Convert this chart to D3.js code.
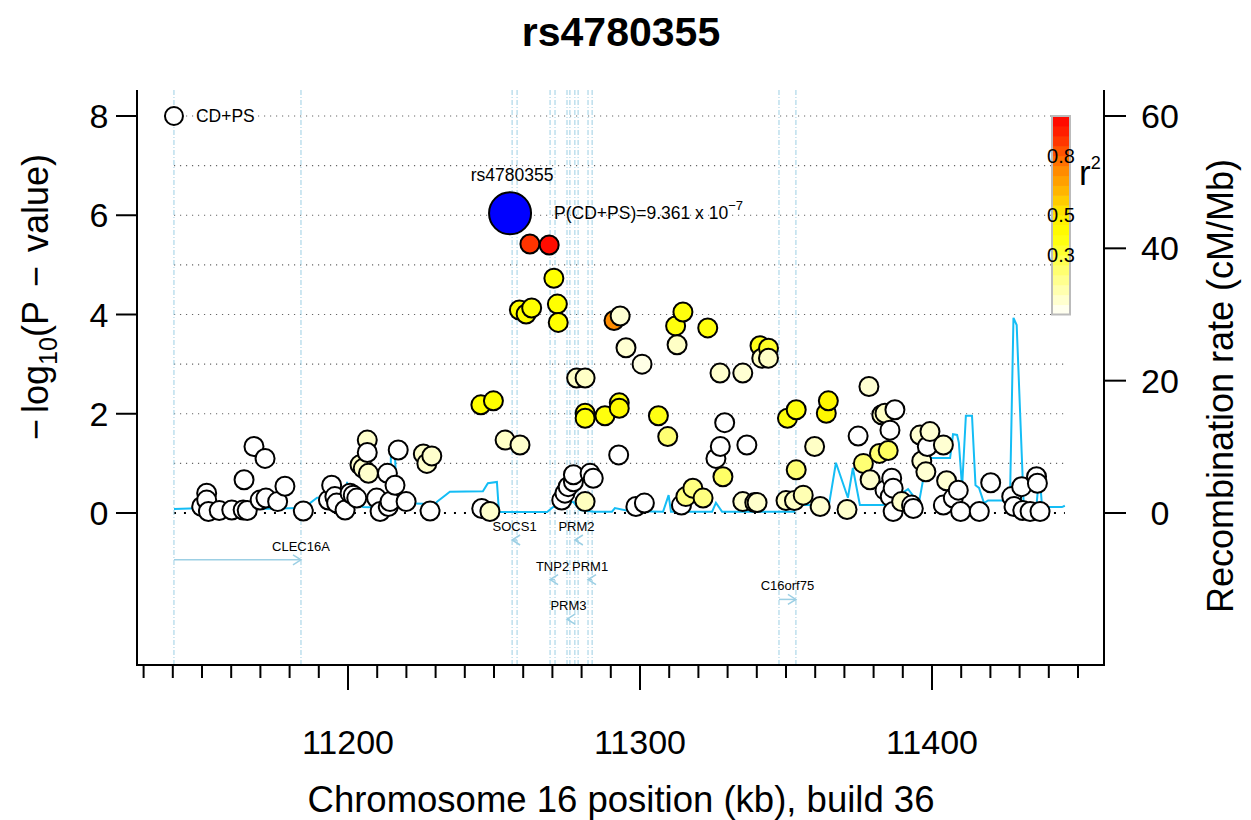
<!DOCTYPE html>
<html>
<head>
<meta charset="utf-8">
<script src="https://cdn.jsdelivr.net/npm/d3@7"></script>
<style>
  body { margin: 0; background: #fff; }
  text { font-family: "Liberation Sans", Arial, sans-serif; fill: #000; }
</style>
</head>
<body>
<div class="chart"></div>
<script>
// ---- data ----

// [position (kb), -log10 p, r2 with the index SNP]
var snps = [
    [11149.9, 0.13, 0], [11151.6, 0.40, 0], [11151.6, 0.26, 0], [11152.2, 0.03, 0],
    [11155.9, 0.05, 0], [11160.2, 0.06, 0], [11164.1, 0.06, 0], [11164.4, 0.67, 0],
    [11165.5, 0.05, 0], [11167.8, 1.34, 0], [11169.9, 0.26, 0], [11171.6, 1.10, 0],
    [11171.9, 0.30, 0], [11175.9, 0.23, 0], [11178.4, 0.54, 0], [11184.7, 0.04, 0],
    [11193.3, 0.26, 0], [11194.4, 0.56, 0], [11195.5, 0.33, 0], [11196.1, 0.20, 0],
    [11199.0, 0.06, 0], [11200.7, 0.40, 0], [11201.8, 0.36, 0], [11203.0, 0.30, 0],
    [11204.1, 0.97, 0.08], [11205.2, 0.90, 0.08], [11206.6, 1.47, 0.08], [11206.6, 1.22, 0],
    [11207.0, 0.80, 0.08], [11209.8, 0.30, 0], [11211.0, 0.03, 0], [11213.5, 0.80, 0],
    [11213.8, 0.13, 0], [11214.4, 0.23, 0], [11216.1, 0.56, 0], [11217.2, 1.27, 0],
    [11219.9, 0.23, 0], [11225.8, 1.19, 0.08], [11227.0, 1.00, 0.08], [11228.1, 0.04, 0],
    [11228.7, 1.15, 0.08], [11245.5, 2.18, 0.4], [11245.8, 0.09, 0], [11248.6, 0.03, 0.08],
    [11249.8, 2.26, 0.4], [11253.8, 1.47, 0.09], [11258.7, 4.09, 0.4], [11258.9, 1.37, 0.08],
    [11261.0, 4.01, 0.4], [11262.3, 5.42, 0.88], [11262.9, 4.13, 0.4], [11268.9, 5.40, 0.97],
    [11270.5, 4.73, 0.4], [11271.7, 4.21, 0.4], [11272.0, 3.84, 0.4], [11273.2, 0.26, 0],
    [11274.3, 0.40, 0], [11275.4, 0.53, 0], [11277.2, 0.63, 0], [11277.2, 0.77, 0],
    [11278.3, 2.72, 0.09], [11281.2, 2.72, 0.09], [11281.2, 2.01, 0.42], [11281.2, 1.91, 0.38],
    [11281.2, 0.23, 0.1], [11282.9, 0.80, 0], [11284.0, 0.70, 0], [11288.0, 1.96, 0.38],
    [11291.1, 3.88, 0.72], [11292.7, 1.17, 0], [11292.9, 2.22, 0.38], [11292.9, 2.11, 0.43],
    [11293.2, 3.97, 0.07], [11295.2, 3.33, 0.07], [11298.6, 0.13, 0], [11300.7, 3.00, 0.04],
    [11301.5, 0.20, 0], [11306.3, 1.96, 0.37], [11309.5, 1.54, 0.22], [11312.2, 3.77, 0.38],
    [11312.7, 3.39, 0.09], [11314.2, 0.16, 0], [11314.7, 4.05, 0.38], [11315.7, 0.33, 0.2],
    [11318.1, 0.50, 0.2], [11321.6, 0.30, 0.2], [11323.2, 3.73, 0.38], [11326.0, 1.10, 0],
    [11327.4, 2.82, 0.08], [11327.5, 1.34, 0], [11328.4, 0.73, 0.24], [11329.0, 1.82, 0],
    [11335.2, 2.82, 0.07], [11335.2, 0.23, 0.08], [11336.6, 1.37, 0], [11339.3, 0.21, 0.08],
    [11340.1, 0.21, 0.08], [11341.1, 3.37, 0.36], [11341.7, 3.12, 0.09], [11344.0, 3.32, 0.34],
    [11344.0, 3.12, 0.09], [11350.0, 0.25, 0.09], [11350.5, 1.91, 0.38], [11352.9, 0.25, 0.09],
    [11353.5, 2.08, 0.38], [11353.5, 0.87, 0.22], [11355.9, 0.36, 0.12], [11359.8, 1.34, 0.09],
    [11361.7, 0.13, 0.07], [11363.8, 2.01, 0.45], [11364.5, 2.26, 0.45], [11370.9, 0.07, 0.08],
    [11374.7, 1.55, 0], [11376.5, 1.00, 0.22], [11378.4, 2.55, 0.07], [11378.8, 0.67, 0.08],
    [11382.0, 1.20, 0.22], [11382.8, 1.98, 0.09], [11383.9, 2.01, 0.09], [11383.9, 0.46, 0],
    [11385.0, 1.26, 0.25], [11385.6, 1.67, 0], [11385.7, 0.33, 0], [11386.2, 0.70, 0],
    [11386.7, 0.50, 0], [11386.7, 0.03, 0], [11387.3, 2.08, 0], [11389.6, 0.23, 0.08],
    [11393.0, 0.16, 0], [11393.6, 0.09, 0], [11395.9, 1.57, 0.07], [11396.5, 1.05, 0.07],
    [11397.9, 0.83, 0.07], [11398.4, 1.34, 0], [11399.3, 1.64, 0.07], [11403.9, 1.37, 0.07],
    [11403.9, 0.16, 0], [11405.0, 0.65, 0.07], [11407.3, 0.30, 0], [11409.0, 0.46, 0],
    [11409.8, 0.03, 0], [11416.2, 0.03, 0], [11420.1, 0.61, 0], [11427.3, 0.33, 0],
    [11428.1, 0.13, 0], [11430.7, 0.53, 0], [11431.1, 0.05, 0], [11433.6, 0.03, 0],
    [11435.8, 0.73, 0], [11436.1, 0.60, 0], [11437.0, 0.03, 0]
];

var indexSnp = { name: 'rs4780355', pos: 11255.5, logp: 6.04 };
var indexP = { label: 'P(CD+PS)=9.361 x 10', exp: '\u22127' };
var studyName = 'CD+PS';

// [position (kb), recombination rate (cM/Mb)]
var recomb = [
    [11140.4, 0.6], [11151.0, 0.75], [11166.4, 0.6], [11183.6, 0.75], [11187.0, 1.5],
    [11189.4, 2.3], [11196.2, 2.3], [11196.4, 5.4], [11196.9, 2.4], [11199.5, 2.3],
    [11199.7, 4.7], [11200.2, 2.4], [11205.1, 0.9], [11214.4, 0.75], [11214.7, 8.8],
    [11216.1, 8.5], [11216.8, 1.5], [11225.7, 1.4], [11228.1, 0.6], [11230.5, 1.7],
    [11234.9, 3.2], [11246.2, 3.3], [11247.9, 4.5], [11251.0, 4.7], [11251.7, 0.15],
    [11268.2, 0.15], [11270.2, 0.9], [11275.0, 1.5], [11277.1, 1.7], [11279.5, 0.45],
    [11284.2, 0.2], [11290.4, 0.2], [11291.4, 0.75], [11296.2, 0.3], [11307.9, 0.2],
    [11309.8, 2.7], [11310.6, 0.2], [11324.7, 0.2], [11326.0, 1.55], [11328.1, 0.2],
    [11352.7, 0.2], [11353.4, 1.2], [11364.7, 1.2], [11367.1, 7.6], [11371.2, 2.3],
    [11372.9, 6.8], [11375.3, 1.2], [11383.6, 1.2], [11391.8, 3.6], [11395.5, 1.5],
    [11398.3, 8.3], [11406.2, 8.3], [11407.2, 11.9], [11408.6, 11.8], [11409.2, 10.6],
    [11410.3, 3.9], [11411.6, 14.7], [11413.7, 14.7], [11414.9, 4.2], [11416.1, 3.8],
    [11417.8, 1.5], [11419.2, 1.9], [11426.7, 1.9], [11427.9, 29.5], [11429.0, 28.4],
    [11431.5, 0.2], [11435.6, 0.2], [11436.2, 3.2], [11437.3, 3.2], [11437.7, 0.9],
    [11444.5, 0.9], [11445.5, 1.1]
];

// genes: start / end in kb, strand
var genes = [
    { name: 'CLEC16A', start: 11140.4, end: 11183.9, strand: '+', clipped: true },
    { name: 'SOCS1', start: 11256.2, end: 11257.9, strand: '-' },
    { name: 'TNP2', start: 11269.2, end: 11270.9, strand: '-' },
    { name: 'PRM3', start: 11275.0, end: 11276.0, strand: '-' },
    { name: 'PRM2', start: 11277.7, end: 11278.8, strand: '-' },
    { name: 'PRM1', start: 11282.2, end: 11283.6, strand: '-' },
    { name: 'C16orf75', start: 11347.6, end: 11353.4, strand: '+' }
];

var pTicks = [0, 2, 4, 6, 8];
var pGrid = [1, 2, 3, 4, 5, 6, 7, 8];
var rateTicks = [0, 20, 40, 60];
var posLabels = [11200, 11300, 11400];
var posMinor = d3.range(11130, 11451, 10);
var r2Labels = [0.3, 0.5, 0.8];
var r2Steps = d3.range(20).map(function (i) { return (i + 0.5) / 20; });

// ---- layout ----

var w = 1251, h = 820;
var pLeft = 137, pRight = 1104, pTop = 90, pBottom = 665;
var geneRow = { 'SOCS1': 0, 'PRM2': 0, 'CLEC16A': 1, 'TNP2': 2, 'PRM1': 2, 'C16orf75': 3, 'PRM3': 4 };
var geneRowY0 = 540, geneRowStep = 19.8;
var pointR = 9.5;
var geneColor = '#9ccfe4';

var x = d3.scaleLinear().domain([11200, 11400]).range([348, 932]);
var y = d3.scaleLinear().domain([0, 8]).range([513, 116]);
var yRate = d3.scaleLinear().domain([0, 60]).range([513, 116]);
var yBar = d3.scaleLinear().domain([0, 1]).range([y(4), y(8)]);
var color = d3.scaleLinear()
    .domain([0, 0.4, 0.5, 0.6, 0.75, 0.9, 1])
    .range(['#ffffff', '#ffff00', '#ffee00', '#ffc000', '#ff8000', '#ff2800', '#ff0000']);

var xMin = d3.min(recomb, function (d) { return d[0]; });
var xMax = d3.max(recomb, function (d) { return d[0]; });

var svg = d3.select('.chart')
    .append('svg')
        .attr('width', w)
        .attr('height', h);

// horizontal grid
svg.selectAll('line.grid')
    .data(pGrid)
    .enter()
    .append('line')
        .attr('x1', x(xMin))
        .attr('x2', x(xMax))
        .attr('y1', function (d) { return y(d); })
        .attr('y2', function (d) { return y(d); })
        .attr('stroke', '#666')
        .attr('stroke-width', 1.2)
        .attr('stroke-dasharray', '1.2,4.8');

svg.append('line')
    .attr('x1', x(xMin))
    .attr('x2', x(xMax))
    .attr('y1', y(0))
    .attr('y2', y(0))
    .attr('stroke', '#000')
    .attr('stroke-width', 2)
    .attr('stroke-dasharray', '2,8');

// gene boundaries
var bounds = [];
genes.forEach(function (g) { bounds.push(g.start, g.end); });
svg.selectAll('line.gb')
    .data(bounds)
    .enter()
    .append('line')
        .attr('x1', function (d) { return x(d); })
        .attr('x2', function (d) { return x(d); })
        .attr('y1', pTop)
        .attr('y2', pBottom)
        .attr('stroke', geneColor)
        .attr('stroke-width', 1)
        .attr('stroke-dasharray', '5,2,1,2');

// recombination rate
svg.append('path')
    .datum(recomb)
    .attr('fill', 'none')
    .attr('stroke', '#14bdf5')
    .attr('stroke-width', 2)
    .attr('d', d3.line()
        .x(function (d) { return x(d[0]); })
        .y(function (d) { return yRate(d[1]); }));

// genes
var gg = svg.selectAll('g.gene')
    .data(genes)
    .enter()
    .append('g');

gg.append('line')
    .attr('x1', function (d) { return x(d.start); })
    .attr('x2', function (d) { return x(d.end); })
    .attr('y1', function (d) { return geneRowY0 + geneRow[d.name] * geneRowStep; })
    .attr('y2', function (d) { return geneRowY0 + geneRow[d.name] * geneRowStep; })
    .attr('stroke', geneColor)
    .attr('stroke-width', 1.5);

gg.append('path')
    .attr('fill', 'none')
    .attr('stroke', geneColor)
    .attr('stroke-width', 1.5)
    .attr('d', function (d) {
        var yy = geneRowY0 + geneRow[d.name] * geneRowStep;
        var tip = d.strand === '+' ? x(d.end) : x(d.start);
        var dx = d.strand === '+' ? -8 : 8;
        return 'M' + (tip + dx) + ',' + (yy - 5) + 'L' + tip + ',' + yy + 'L' + (tip + dx) + ',' + (yy + 5);
    });

gg.append('text')
    .text(function (d) { return d.name; })
    .attr('x', function (d) { return d.clipped ? x(d.end) : x((d.start + d.end) / 2); })
    .attr('y', function (d) { return geneRowY0 + geneRow[d.name] * geneRowStep - 9; })
    .attr('text-anchor', 'middle')
    .attr('font-size', 13)
    .attr('fill', '#222');

// SNPs
svg.selectAll('circle.snp')
    .data(d3.sort(snps, function (d) { return d[0]; }))
    .enter()
    .append('circle')
        .attr('cx', function (d) { return x(d[0]); })
        .attr('cy', function (d) { return y(d[1]); })
        .attr('r', pointR)
        .attr('fill', function (d) { return color(d[2]); })
        .attr('stroke', '#000')
        .attr('stroke-width', 2);

// index SNP
svg.append('circle')
    .attr('cx', x(indexSnp.pos))
    .attr('cy', y(indexSnp.logp))
    .attr('r', 21)
    .attr('fill', '#0000ff')
    .attr('stroke', '#000')
    .attr('stroke-width', 2);

svg.append('text')
    .text(indexSnp.name)
    .attr('x', x(indexSnp.pos) + 2)
    .attr('y', y(indexSnp.logp) - 32)
    .attr('text-anchor', 'middle')
    .attr('font-size', 17.5);

var pt = svg.append('text')
    .attr('x', x(indexSnp.pos) + 44)
    .attr('y', y(indexSnp.logp) + 6)
    .attr('font-size', 17.5);
pt.append('tspan').text(indexP.label);
pt.append('tspan').text(indexP.exp).attr('font-size', 13).attr('dy', -9);

// study legend
svg.append('circle')
    .attr('cx', x(xMin))
    .attr('cy', y(8))
    .attr('r', 9)
    .attr('fill', '#fff')
    .attr('stroke', '#000')
    .attr('stroke-width', 2);
svg.append('text')
    .text(studyName)
    .attr('x', x(xMin) + 22)
    .attr('y', y(8) + 6)
    .attr('font-size', 17.5);

// r2 colour bar
svg.selectAll('rect.bar')
    .data(r2Steps)
    .enter()
    .append('rect')
        .attr('x', 1052)
        .attr('y', function (d) { return yBar(d + 0.025); })
        .attr('width', 18)
        .attr('height', yBar(0) - yBar(0.05) + 0.5)
        .attr('fill', function (d) { return color(d); });
svg.append('rect')
    .attr('x', 1052)
    .attr('y', yBar(1))
    .attr('width', 18)
    .attr('height', yBar(0) - yBar(1))
    .attr('fill', 'none')
    .attr('stroke', '#bbb')
    .attr('stroke-width', 2);
svg.selectAll('text.r2')
    .data(r2Labels)
    .enter()
    .append('text')
        .text(function (d) { return d; })
        .attr('x', 1061)
        .attr('y', function (d) { return yBar(d) + 7; })
        .attr('text-anchor', 'middle')
        .attr('font-size', 20);
var r2t = svg.append('text')
    .attr('x', 1079)
    .attr('y', 185)
    .attr('font-size', 35);
r2t.append('tspan').text('r');
r2t.append('tspan').text('2').attr('font-size', 18).attr('dy', -16);

// frame
svg.append('path')
    .attr('d', 'M' + pLeft + ',' + pTop + 'V' + pBottom + 'H' + pRight + 'V' + pTop)
    .attr('fill', 'none')
    .attr('stroke', '#000')
    .attr('stroke-width', 2);

// left axis
svg.selectAll('line.yt')
    .data(pTicks)
    .enter()
    .append('line')
        .attr('x1', pLeft - 21)
        .attr('x2', pLeft)
        .attr('y1', function (d) { return y(d); })
        .attr('y2', function (d) { return y(d); })
        .attr('stroke', '#000')
        .attr('stroke-width', 2);
svg.selectAll('text.yt')
    .data(pTicks)
    .enter()
    .append('text')
        .text(function (d) { return d; })
        .attr('x', 99)
        .attr('y', function (d) { return y(d) + 12; })
        .attr('text-anchor', 'middle')
        .attr('font-size', 34);

// right axis
svg.selectAll('line.rt')
    .data(rateTicks)
    .enter()
    .append('line')
        .attr('x1', pRight)
        .attr('x2', pRight + 22)
        .attr('y1', function (d) { return yRate(d); })
        .attr('y2', function (d) { return yRate(d); })
        .attr('stroke', '#000')
        .attr('stroke-width', 2);
svg.selectAll('text.rt')
    .data(rateTicks)
    .enter()
    .append('text')
        .text(function (d) { return d; })
        .attr('x', 1160)
        .attr('y', function (d) { return yRate(d) + 12; })
        .attr('text-anchor', 'middle')
        .attr('font-size', 34);

// bottom axis
svg.selectAll('line.xt')
    .data(posMinor)
    .enter()
    .append('line')
        .attr('x1', function (d) { return x(d); })
        .attr('x2', function (d) { return x(d); })
        .attr('y1', pBottom)
        .attr('y2', function (d) { return posLabels.indexOf(d) >= 0 ? pBottom + 25 : pBottom + 13; })
        .attr('stroke', '#000')
        .attr('stroke-width', 2);
svg.selectAll('text.xt')
    .data(posLabels)
    .enter()
    .append('text')
        .text(function (d) { return d; })
        .attr('x', function (d) { return x(d); })
        .attr('y', 754)
        .attr('text-anchor', 'middle')
        .attr('font-size', 34);

// titles
svg.append('text')
    .text(indexSnp.name)
    .attr('x', 621)
    .attr('y', 46)
    .attr('text-anchor', 'middle')
    .attr('font-size', 41)
    .attr('font-weight', 'bold');

svg.append('text')
    .text('Chromosome 16 position (kb), build 36')
    .attr('x', 621)
    .attr('y', 812)
    .attr('text-anchor', 'middle')
    .attr('font-size', 36.5);

var yl = svg.append('text')
    .attr('transform', 'translate(48,297) rotate(-90)')
    .attr('text-anchor', 'middle')
    .attr('font-size', 36);
yl.append('tspan').text('\u2212');
yl.append('tspan').text('log').attr('dx', 6);
yl.append('tspan').text('10').attr('font-size', 25).attr('dy', 9);
yl.append('tspan').text('(P').attr('dy', -9);
yl.append('tspan').text('\u2212').attr('dx', 14);
yl.append('tspan').text('value)').attr('dx', 14);

svg.append('text')
    .text('Recombination rate (cM/Mb)')
    .attr('transform', 'translate(1233,386) rotate(-90)')
    .attr('text-anchor', 'middle')
    .attr('font-size', 36);
</script>
</body>
</html>
